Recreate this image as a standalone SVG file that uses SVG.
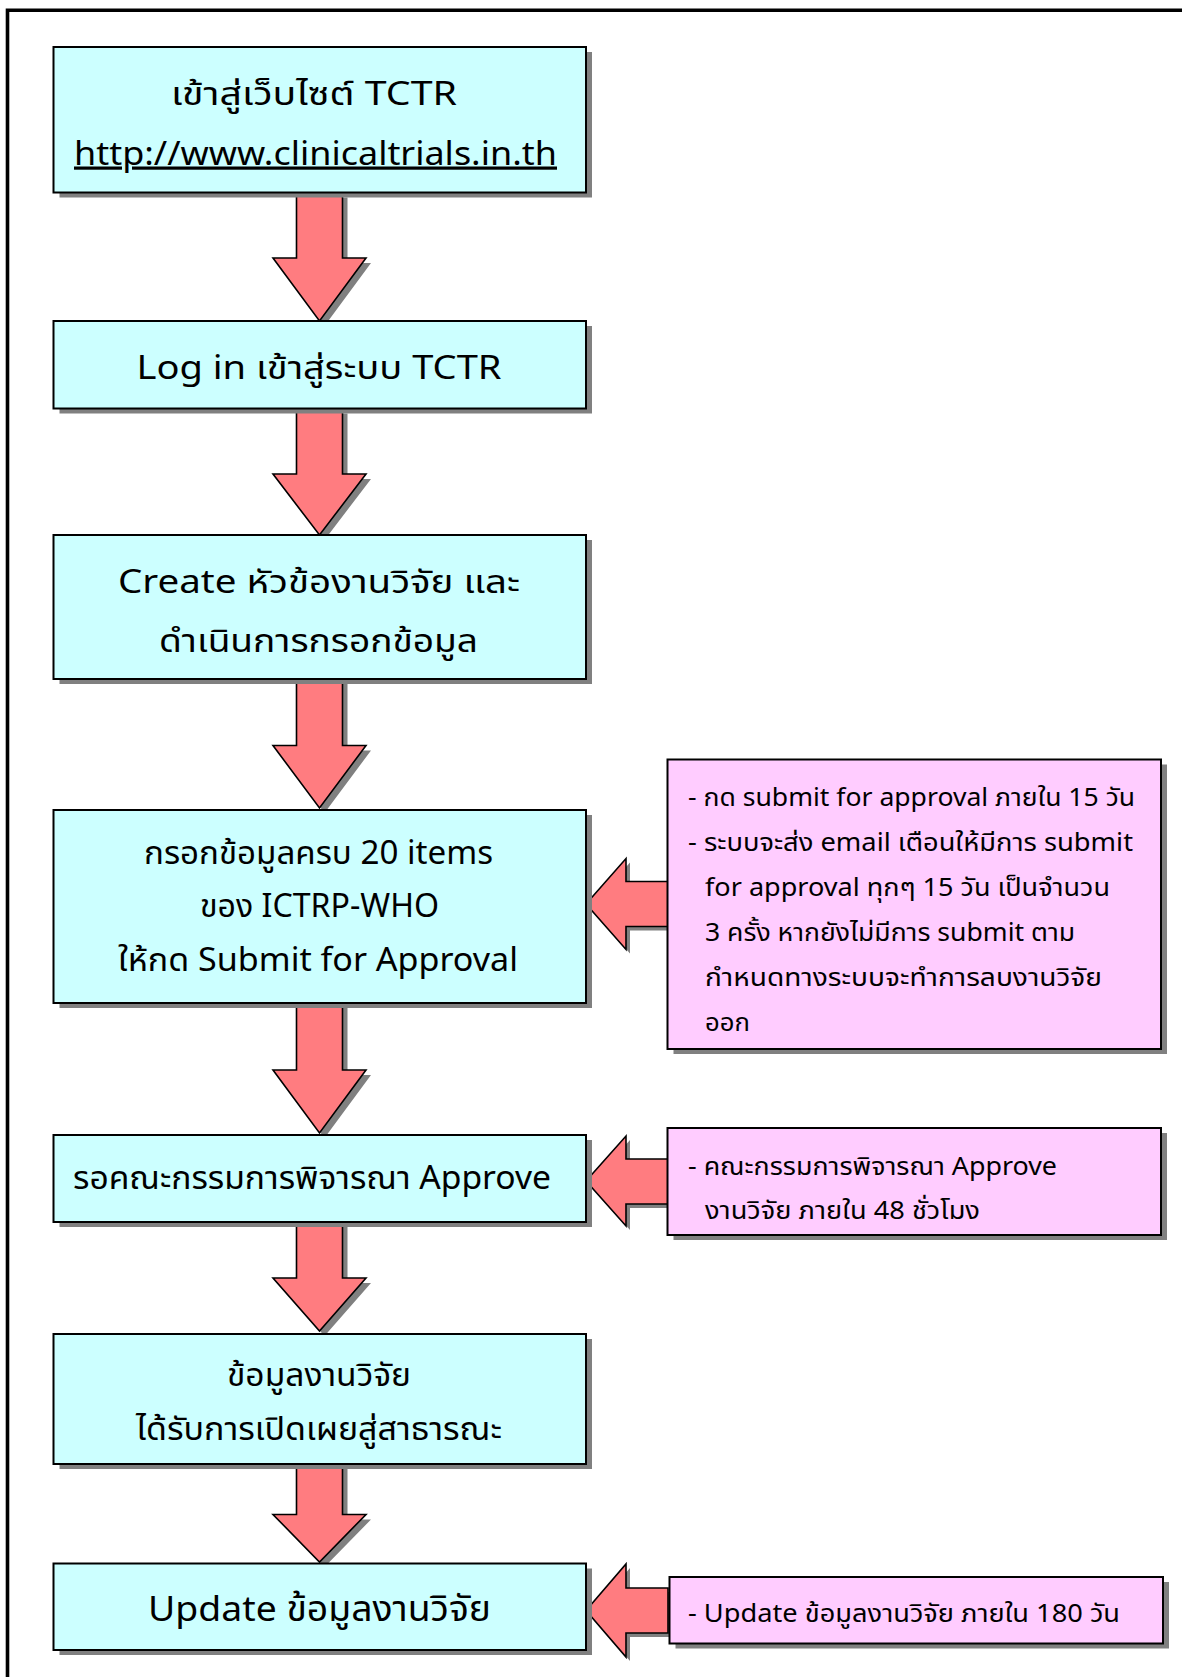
<svg xmlns="http://www.w3.org/2000/svg" width="1182" height="1677" viewBox="0 0 1182 1677">
<style>
.shadow{fill:#808080}
.box{fill:#CCFFFF;stroke:#000;stroke-width:2}
.note{fill:#FFCCFF;stroke:#000;stroke-width:2}
.arrow{fill:#FF7C80;stroke:#000;stroke-width:1.6;stroke-linejoin:miter}
.t{font-family:"Tahoma","Noto Sans Thai","Leelawadee UI","Loma","Garuda","DejaVu Sans",sans-serif;fill:#000}
.main{font-size:32px;text-anchor:middle}
.big{font-size:35px;text-anchor:middle}
.small{font-size:25px}
</style>
<rect width="1182" height="1677" fill="#fff"/>
<path d="M7.5 1690 V10.3 H1195" fill="none" stroke="#000" stroke-width="3.6"/>

<g id="connectors">
  <polygon class="shadow" points="301.5,197.5 347.5,197.5 347.5,263 371,263 324.5,326 278,263 301.5,263"/>
  <polygon class="arrow" points="296.5,192.5 342.5,192.5 342.5,258 366,258 319.5,321 273,258 296.5,258"/>
  <polygon class="shadow" points="301.5,413.5 347.5,413.5 347.5,479 371,479 324.5,540 278,479 301.5,479"/>
  <polygon class="arrow" points="296.5,408.5 342.5,408.5 342.5,474 366,474 319.5,535 273,474 296.5,474"/>
  <polygon class="shadow" points="301.5,684 347.5,684 347.5,750.5 371,750.5 324.5,813 278,750.5 301.5,750.5"/>
  <polygon class="arrow" points="296.5,679 342.5,679 342.5,745.5 366,745.5 319.5,808 273,745.5 296.5,745.5"/>
  <polygon class="shadow" points="301.5,1008 347.5,1008 347.5,1075 371,1075 324.5,1138 278,1075 301.5,1075"/>
  <polygon class="arrow" points="296.5,1003 342.5,1003 342.5,1070 366,1070 319.5,1133 273,1070 296.5,1070"/>
  <polygon class="shadow" points="301.5,1227 347.5,1227 347.5,1283 371,1283 324.5,1336 278,1283 301.5,1283"/>
  <polygon class="arrow" points="296.5,1222 342.5,1222 342.5,1278 366,1278 319.5,1331 273,1278 296.5,1278"/>
  <polygon class="shadow" points="301.5,1469 347.5,1469 347.5,1519.5 371,1519.5 324.5,1567 278,1519.5 301.5,1519.5"/>
  <polygon class="arrow" points="296.5,1464 342.5,1464 342.5,1514.5 366,1514.5 319.5,1562 273,1514.5 296.5,1514.5"/>

  <polygon class="shadow" points="590,908 630,862.5 630,885.5 672,885.5 672,930.5 630,930.5 630,953.5"/>
  <polygon class="arrow" points="586,904 626,858.5 626,881.5 668,881.5 668,926.5 626,926.5 626,949.5"/>
  <polygon class="shadow" points="590,1185 630,1140 630,1163 672,1163 672,1208 630,1208 630,1230"/>
  <polygon class="arrow" points="586,1181 626,1136 626,1159 668,1159 668,1204 626,1204 626,1226"/>
  <polygon class="shadow" points="590,1614.5 630,1568 630,1592 672,1592 672,1637 630,1637 630,1661"/>
  <polygon class="arrow" points="586,1610.5 626,1564 626,1588 668,1588 668,1633 626,1633 626,1657"/>
</g>

<g id="node1">
  <rect class="shadow" x="59.5" y="52" width="532.5" height="145.5"/>
  <rect class="box" x="53.5" y="47" width="532.5" height="145.5"/>
  <text class="t main" x="314" y="104.5" textLength="286" lengthAdjust="spacingAndGlyphs">เข้าสู่เว็บไซต์ TCTR</text>
  <text class="t main" x="315.5" y="164.5" textLength="483" lengthAdjust="spacingAndGlyphs" text-decoration="underline">http://www.clinicaltrials.in.th</text>
</g>
<g id="node2">
  <rect class="shadow" x="59.5" y="326" width="532.5" height="87.5"/>
  <rect class="box" x="53.5" y="321" width="532.5" height="87.5"/>
  <text class="t main" x="319" y="379" textLength="365" lengthAdjust="spacingAndGlyphs">Log in เข้าสู่ระบบ TCTR</text>
</g>
<g id="node3">
  <rect class="shadow" x="59.5" y="540" width="532.5" height="144"/>
  <rect class="box" x="53.5" y="535" width="532.5" height="144"/>
  <text class="t main" x="319" y="593" textLength="402" lengthAdjust="spacingAndGlyphs">Create หัวข้องานวิจัย และ</text>
  <text class="t main" x="318.5" y="651.5" textLength="319" lengthAdjust="spacingAndGlyphs">ดำเนินการกรอกข้อมูล</text>
</g>
<g id="node4">
  <rect class="shadow" x="59.5" y="815" width="532.5" height="193"/>
  <rect class="box" x="53.5" y="810" width="532.5" height="193"/>
  <text class="t main" x="318.5" y="863.5" textLength="349" lengthAdjust="spacingAndGlyphs">กรอกข้อมูลครบ 20 items</text>
  <text class="t main" x="319.5" y="917" textLength="239" lengthAdjust="spacingAndGlyphs">ของ ICTRP-WHO</text>
  <text class="t main" x="318" y="970.5" textLength="400" lengthAdjust="spacingAndGlyphs">ให้กด Submit for Approval</text>
</g>
<g id="node5">
  <rect class="shadow" x="59.5" y="1140" width="532.5" height="87"/>
  <rect class="box" x="53.5" y="1135" width="532.5" height="87"/>
  <text class="t main" x="312" y="1188.5" textLength="478" lengthAdjust="spacingAndGlyphs">รอคณะกรรมการพิจารณา Approve</text>
</g>
<g id="node6">
  <rect class="shadow" x="59.5" y="1339" width="532.5" height="130"/>
  <rect class="box" x="53.5" y="1334" width="532.5" height="130"/>
  <text class="t main" x="319" y="1386" textLength="184" lengthAdjust="spacingAndGlyphs">ข้อมูลงานวิจัย</text>
  <text class="t main" x="319" y="1439.5" textLength="366" lengthAdjust="spacingAndGlyphs">ได้รับการเปิดเผยสู่สาธารณะ</text>
</g>
<g id="node7">
  <rect class="shadow" x="59.5" y="1568.5" width="532.5" height="86.5"/>
  <rect class="box" x="53.5" y="1563.5" width="532.5" height="86.5"/>
  <text class="t big" x="319.5" y="1620.5" textLength="343" lengthAdjust="spacingAndGlyphs">Update ข้อมูลงานวิจัย</text>
</g>

<g id="note1">
  <rect class="shadow" x="673.5" y="764.5" width="493.5" height="289.5"/>
  <rect class="note" x="667.5" y="759.5" width="493.5" height="289.5"/>
  <text class="t small" x="688" y="806" textLength="447" lengthAdjust="spacingAndGlyphs">- กด submit for approval ภายใน 15 วัน</text>
  <text class="t small" x="688" y="851" textLength="445" lengthAdjust="spacingAndGlyphs">- ระบบจะส่ง email เตือนให้มีการ submit</text>
  <text class="t small" x="705" y="896" textLength="405" lengthAdjust="spacingAndGlyphs">for approval ทุกๆ 15 วัน เป็นจำนวน</text>
  <text class="t small" x="705" y="941" textLength="370" lengthAdjust="spacingAndGlyphs">3 ครั้ง หากยังไม่มีการ submit ตาม</text>
  <text class="t small" x="705" y="986" textLength="397" lengthAdjust="spacingAndGlyphs">กำหนดทางระบบจะทำการลบงานวิจัย</text>
  <text class="t small" x="705" y="1031" textLength="45" lengthAdjust="spacingAndGlyphs">ออก</text>
</g>
<g id="note2">
  <rect class="shadow" x="673.5" y="1133" width="493.5" height="107"/>
  <rect class="note" x="667.5" y="1128" width="493.5" height="107"/>
  <text class="t small" x="688" y="1175" textLength="369" lengthAdjust="spacingAndGlyphs">- คณะกรรมการพิจารณา Approve</text>
  <text class="t small" x="705" y="1219" textLength="275" lengthAdjust="spacingAndGlyphs">งานวิจัย ภายใน 48 ชั่วโมง</text>
</g>
<g id="note3">
  <rect class="shadow" x="675.5" y="1582" width="493.5" height="66.5"/>
  <rect class="note" x="669.5" y="1577" width="493.5" height="66.5"/>
  <text class="t small" x="688" y="1622" textLength="432" lengthAdjust="spacingAndGlyphs">- Update ข้อมูลงานวิจัย ภายใน 180 วัน</text>
</g>
</svg>
